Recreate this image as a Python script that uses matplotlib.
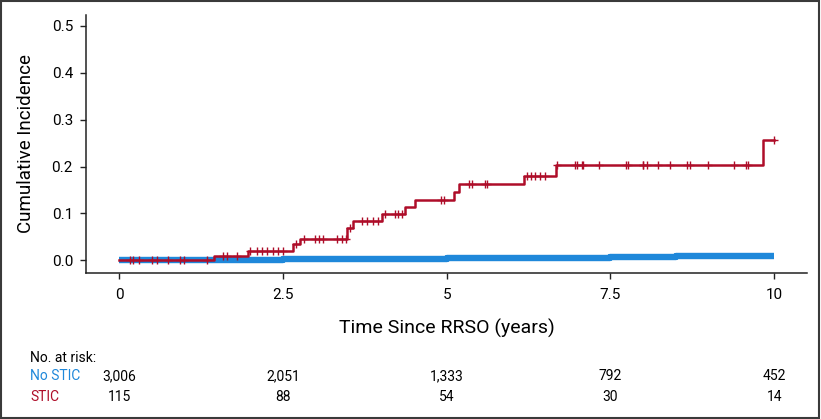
import matplotlib
matplotlib.use("Agg")
import matplotlib.pyplot as plt
import matplotlib.transforms as mtransforms
from matplotlib.patches import Rectangle

plt.rcParams["font.family"] = ["Roboto", "DejaVu Sans"]

# ── data ────────────────────────────────────────────────────────────────────
stic_times = [0.0, 1.45, 1.97, 2.66, 2.76, 3.48, 3.57, 4.02, 4.37, 4.52,
              5.11, 5.19, 6.18, 6.67, 9.83, 10.0]
stic_cif = [0.0, 0.009, 0.020, 0.036, 0.045, 0.068, 0.084, 0.098, 0.113, 0.129,
            0.145, 0.162, 0.180, 0.203, 0.256, 0.256]

stic_censor = [0.17, 0.21, 0.31, 0.50, 0.58, 0.75, 0.93, 0.99, 1.34,
               1.59, 1.65, 1.80,
               2.00, 2.10, 2.18, 2.26, 2.35, 2.43, 2.50,
               2.70,
               2.82, 2.99, 3.05, 3.12, 3.33, 3.40, 3.46,
               3.53,
               3.71, 3.79, 3.88, 3.95,
               4.06, 4.21, 4.26, 4.32,
               4.92, 4.96,
               5.34, 5.39, 5.59, 5.62,
               6.23, 6.28, 6.35, 6.43, 6.50,
               6.68, 6.96, 6.99, 7.07, 7.08, 7.33, 7.73, 7.76, 7.99, 8.00,
               8.06, 8.23, 8.41, 8.67, 8.72, 8.99, 9.39, 9.57, 9.60,
               10.0]

nostic_times = [0.0, 1.5, 2.5, 4.0, 5.0, 6.8, 7.5, 8.5, 10.0]
nostic_cif = [0.0, 0.001, 0.003, 0.004, 0.005, 0.006, 0.008, 0.009, 0.010]

risk_times = [0, 2.5, 5, 7.5, 10]
risk_nostic = ["3,006", "2,051", "1,333", "792", "452"]
risk_stic = ["115", "88", "54", "30", "14"]

BLUE = "#1F88DA"
RED = "#AE0D29"


def step_value(t, times, vals):
    v = vals[0]
    for ti, vi in zip(times, vals):
        if ti <= t:
            v = vi
    return v


# ── figure ───────────────────────────────────────────────────────────────────
fig = plt.figure(figsize=(8.21, 4.19), dpi=100)
ax = fig.add_axes([0.1048, 0.349, 0.983 - 0.1048, 0.964 - 0.349])

ax.step(nostic_times, nostic_cif, where="post", color=BLUE,
        linewidth=4.6, solid_capstyle="butt", zorder=2)
ax.step(stic_times, stic_cif, where="post", color=RED,
        linewidth=1.8, zorder=3)
ax.plot(stic_censor, [step_value(t, stic_times, stic_cif) for t in stic_censor],
        linestyle="none", marker="+", markersize=6, markeredgewidth=1.0,
        color=RED, zorder=4)

ax.set_xlim(-0.504, 10.50)
ax.set_ylim(-0.0264, 0.523)
ax.set_xticks(risk_times)
ax.set_xticklabels(["0", "2.5", "5", "7.5", "10"])
ax.set_yticks([0.0, 0.1, 0.2, 0.3, 0.4, 0.5])
ax.set_yticklabels(["0.0", "0.1", "0.2", "0.3", "0.4", "0.5"])
ax.tick_params(axis="both", labelsize=11, length=4.3, width=1.0,
               color="#222222", pad=5)
ax.tick_params(axis="x", pad=7)
ax.spines[["top", "right"]].set_visible(False)
for s in ["left", "bottom"]:
    ax.spines[s].set_linewidth(1.1)
    ax.spines[s].set_color("#222222")

ax.set_ylabel("Cumulative Incidence", fontsize=13.5, labelpad=12)
ax.set_xlabel("Time Since RRSO (years)", fontsize=14, labelpad=12)

# ── number at risk table ─────────────────────────────────────────────────────
tr = mtransforms.blended_transform_factory(ax.transData, fig.transFigure)
y_head = 1 - 358 / 419
y_blue = 1 - 376 / 419
y_red = 1 - 397 / 419
fig.text(30 / 821, y_head, "No. at risk:", fontsize=10, va="center", ha="left")
fig.text(30 / 821, y_blue, "No STIC", fontsize=10, va="center", ha="left", color=BLUE)
fig.text(30 / 821, y_red, "STIC", fontsize=10, va="center", ha="left", color=RED)
for t, nb, nr in zip(risk_times, risk_nostic, risk_stic):
    ax.text(t, y_blue, nb, transform=tr, fontsize=10, ha="center", va="center")
    ax.text(t, y_red, nr, transform=tr, fontsize=10, ha="center", va="center")

# outer frame
fig.patches.append(Rectangle((0.001, 0.002), 0.997, 0.996, transform=fig.transFigure,
                             fill=False, edgecolor="#3a3a3a", linewidth=1.5))

fig.savefig("out.png", dpi=100)
